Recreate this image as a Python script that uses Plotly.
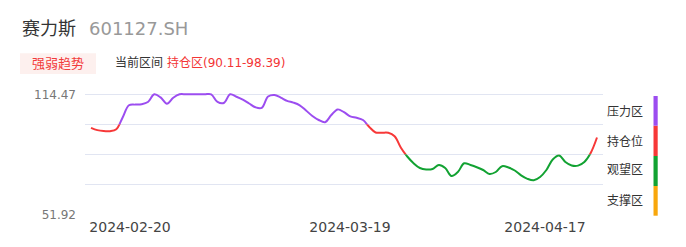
import plotly.graph_objects as go

# ---- data ----
values = [
    97.01, 95.81, 95.29, 95.25, 96.23, 102.38, 108.74, 109.10, 109.31, 110.46,
    114.47, 112.85, 109.57, 112.65, 114.47, 114.47, 114.47, 114.47, 114.47, 114.47,
    110.46, 109.94, 114.47, 113.17, 111.66, 109.67, 107.69, 107.43, 113.32, 114.11,
    112.75, 111.03, 110.14, 108.74, 106.03, 103.16, 101.07, 99.93, 103.68, 106.60,
    105.14, 102.95, 102.22, 101.07, 97.42, 94.56, 94.45, 94.40, 92.58, 86.58,
    82.05, 78.56, 76.05, 75.27, 75.53, 77.62, 76.05, 71.88, 73.97, 78.50,
    77.62, 76.47, 75.01, 72.93, 73.97, 76.99, 76.31, 74.75, 72.25, 70.42,
    69.64, 71.36, 75.01, 80.48, 82.57, 79.18, 77.36, 77.30, 79.18, 83.87,
    91.95,
]
x_idx = list(range(len(values)))

y_min_label = 51.92
y_max_label = 114.47
band_bounds = [51.92, 67.5575, 83.195, 98.8325, 114.47]
band_names = ['支撑区', '观望区', '持仓位', '压力区']
band_colors = ['#f8a70c', '#12a232', '#f73838', '#9c4df0']
y_tick_text = ['51.92', '', '', '', '114.47']
x_tick_labels = ['2024-02-20', '2024-03-19', '2024-04-17']
x_tick_pos = [6.17, 40.95, 71.78]

stock_name = '赛力斯'
stock_code = '601127.SH'
badge_text = '强弱趋势'
current_label = '当前区间'
current_zone = '持仓区(90.11-98.39)'

# ---- layout geometry ----
W, H = 686, 247
L, R, T, B = 85, 83, 90, 32
pw, ph = W - L - R, H - T - B
top_grid_px, bot_grid_px = 94.3, 214.3
k = (y_max_label - y_min_label) / (bot_grid_px - top_grid_px)
y_lo = y_min_label - ((H - B) - bot_grid_px) * k
y_hi = y_max_label + (top_grid_px - T) * k
n = len(values)
x_lo, x_hi = -0.95, n - 1 + 0.95


def px_x(p):
    return (p - L) / pw


def px_y(p):
    return ((H - B) - p) / ph


FONT = 'DejaVu Sans, Noto Sans CJK SC, sans-serif'

fig = go.Figure()
# base (invisible) trace carrying grid and tick labels
fig.add_trace(go.Scatter(x=x_idx, y=values, mode='lines', line=dict(width=0),
                         hoverinfo='skip', showlegend=False, xaxis='x', yaxis='y'))

lows = [y_lo] + band_bounds[1:4]
highs = band_bounds[1:4] + [y_hi]
layout_axes = {}
for i in range(4):
    name = 'y%d' % (i + 2)
    fig.add_trace(go.Scatter(
        x=x_idx, y=values, mode='lines',
        line=dict(color=band_colors[i], width=2, shape='spline', smoothing=1),
        hoverinfo='skip', showlegend=False, xaxis='x', yaxis=name))
    layout_axes['yaxis%d' % (i + 2)] = dict(
        domain=[(lows[i] - y_lo) / (y_hi - y_lo), (highs[i] - y_lo) / (y_hi - y_lo)],
        range=[lows[i], highs[i]], anchor='x', showgrid=False, zeroline=False,
        showline=False, showticklabels=False, ticks='', fixedrange=True)

fig.update_layout(
    width=W, height=H, margin=dict(l=L, r=R, t=T, b=B, pad=0),
    paper_bgcolor='white', plot_bgcolor='rgba(0,0,0,0)', showlegend=False,
    font=dict(family=FONT),
    xaxis=dict(range=[x_lo, x_hi], showgrid=False, zeroline=False, showline=False,
               tickmode='array', tickvals=x_tick_pos, ticktext=x_tick_labels,
               ticks='', tickfont=dict(size=14, color='#444', family=FONT),
               ticklabelstandoff=2, fixedrange=True),
    yaxis=dict(range=[y_lo, y_hi], domain=[0, 1], tickmode='array',
               tickvals=band_bounds, ticktext=y_tick_text, showgrid=True,
               gridcolor='#e1e5f2', gridwidth=1, zeroline=False, showline=False,
               ticks='', tickfont=dict(size=12, color='#777', family=FONT),
               ticklabelstandoff=8, fixedrange=True),
    **layout_axes,
)

annotations = [
    dict(text=stock_name, x=px_x(20), y=px_y(28.5), xanchor='left', yanchor='middle',
         font=dict(size=18, color='#333', family=FONT)),
    dict(text=stock_code, x=px_x(87), y=px_y(28.5), xanchor='left', yanchor='middle',
         font=dict(size=18, color='#999', family=FONT)),
    dict(text=badge_text, x=px_x(58), y=px_y(63.5), xanchor='center', yanchor='middle',
         font=dict(size=13, color='#f23b3b', family=FONT)),
    dict(text=current_label, x=px_x(113), y=px_y(62.5), xanchor='left', yanchor='middle',
         font=dict(size=12, color='#333', family=FONT)),
    dict(text=current_zone, x=px_x(164.5), y=px_y(62.5), xanchor='left', yanchor='middle',
         font=dict(size=12, color='#f33535', family=FONT)),
]
legend_y = [200, 170.3, 141, 111.7]
bar_edges = [215.7, 186, 156, 125.7, 96]
for i in range(4):
    annotations.append(dict(text=band_names[i], x=px_x(605), y=px_y(legend_y[i]),
                            xanchor='left', yanchor='middle',
                            font=dict(size=12, color='#333', family=FONT)))
for a in annotations:
    a.update(xref='paper', yref='paper', showarrow=False)

shapes = [dict(type='rect', xref='paper', yref='paper', x0=px_x(20), x1=px_x(96),
               y0=px_y(74), y1=px_y(53.3), fillcolor='#fdf0ee', line=dict(width=0),
               layer='below')]
for i in range(4):
    shapes.append(dict(type='rect', xref='paper', yref='paper', x0=px_x(653.5),
                       x1=px_x(657.7), y0=px_y(bar_edges[i]), y1=px_y(bar_edges[i + 1]),
                       fillcolor=band_colors[i], line=dict(width=0)))

fig.update_layout(annotations=annotations, shapes=shapes)
fig.write_html('out.html', config={'displayModeBar': False})
